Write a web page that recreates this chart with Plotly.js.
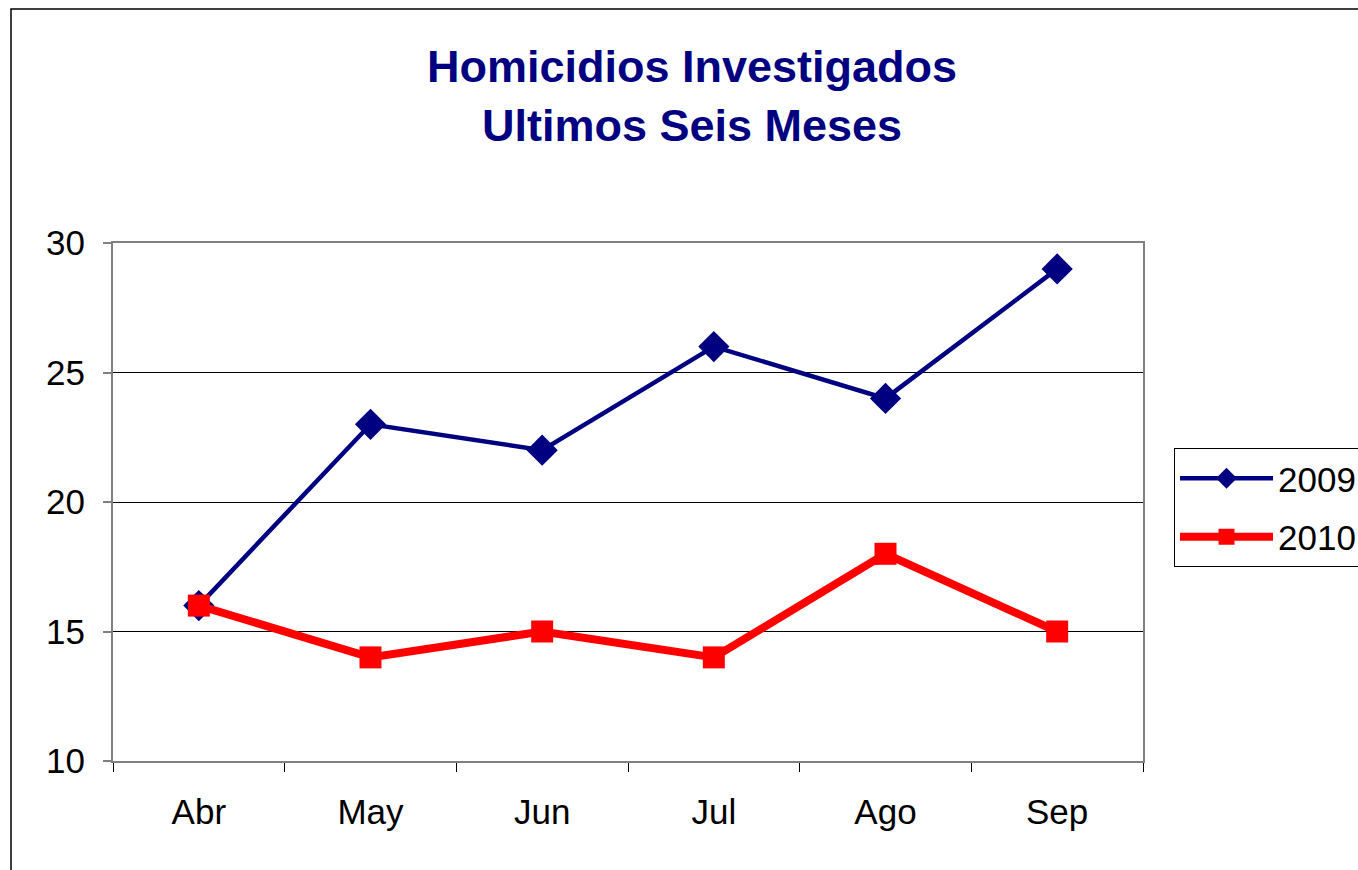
<!DOCTYPE html>
<html>
<head>
<meta charset="utf-8">
<script src="https://cdn.plot.ly/plotly-3.0.1.min.js"></script>
<style>
  body { margin: 0; background: #fff; }
  #chart { width: 1358px; height: 870px; }
</style>
</head>
<body>
<div id="chart"></div>
<script>
const months = ['Abr', 'May', 'Jun', 'Jul', 'Ago', 'Sep'];
const homicidios2009 = [16, 23, 22, 26, 24, 29];
const homicidios2010 = [16, 14, 15, 14, 18, 15];
const yTicks = [10, 15, 20, 25, 30];

const W = 1358, H = 870;
const plotL = 113, plotR = 1143, plotT = 243, plotB = 761;
const pw = plotR - plotL, ph = plotB - plotT;

const fontFam = '"Liberation Sans", Arial, sans-serif';

const traces = [
    {
        x: months,
        y: homicidios2009,
        name: '2009',
        legendgroup: 'a',
        type: 'scatter',
        mode: 'lines+markers',
        line: { color: '#000080', width: 4.5 },
        marker: { symbol: 'diamond', size: 24, color: '#000080' }
    },
    {
        x: months,
        y: homicidios2010,
        name: '2010',
        legendgroup: 'b',
        type: 'scatter',
        mode: 'lines+markers',
        line: { color: '#ff0000', width: 8 },
        marker: { symbol: 'square', size: 22, color: '#ff0000' }
    }
];

const layout = {
    width: W,
    height: H,
    paper_bgcolor: '#fff',
    plot_bgcolor: '#fff',
    font: { family: fontFam, color: '#000', size: 35 },
    margin: { l: plotL, r: W - plotR, t: plotT, b: H - plotB, pad: 0, autoexpand: false },
    title: {
        text: '<b>Homicidios Investigados<br>Ultimos Seis Meses</b>',
        font: { family: fontFam, size: 45, color: '#000080' },
        xref: 'container', x: 692 / W, xanchor: 'center',
        yref: 'container', y: 1 - 82 / H, yanchor: 'middle'
    },
    xaxis: {
        type: 'category',
        range: [-0.5, months.length - 0.5],
        showgrid: false,
        zeroline: false,
        showline: true,
        linecolor: '#808080',
        linewidth: 2,
        mirror: true,
        ticks: 'outside',
        tickson: 'boundaries',
        ticklen: 9,
        tickcolor: '#000',
        tickwidth: 1,
        ticklabelstandoff: 19,
        tickfont: { size: 35 }
    },
    yaxis: {
        range: [10, 30],
        tickvals: yTicks,
        showgrid: true,
        gridcolor: '#000',
        gridwidth: 1,
        zeroline: false,
        showline: true,
        linecolor: '#808080',
        linewidth: 2,
        mirror: true,
        ticks: 'outside',
        ticklen: 8,
        tickcolor: '#808080',
        tickwidth: 2,
        ticklabelstandoff: 11,
        tickfont: { size: 35 }
    },
    showlegend: true,
    legend: {
        x: (1174 - plotL) / pw,
        y: (plotB - 448) / ph,
        xanchor: 'left',
        yanchor: 'top',
        bgcolor: '#fff',
        bordercolor: '#000',
        borderwidth: 1,
        itemwidth: 93,
        tracegroupgap: 10,
        font: { family: fontFam, size: 35, color: '#000' }
    },
    shapes: [
        {
            type: 'rect', xref: 'paper', yref: 'paper',
            x0: (11 - plotL) / pw, x1: (W + 20 - plotL) / pw,
            y0: (plotB - H - 20) / ph, y1: (plotB - 9) / ph,
            line: { color: '#000', width: 1.5 },
            layer: 'below'
        }
    ]
};

Plotly.newPlot('chart', traces, layout, { displayModeBar: false, staticPlot: true });
</script>
</body>
</html>
